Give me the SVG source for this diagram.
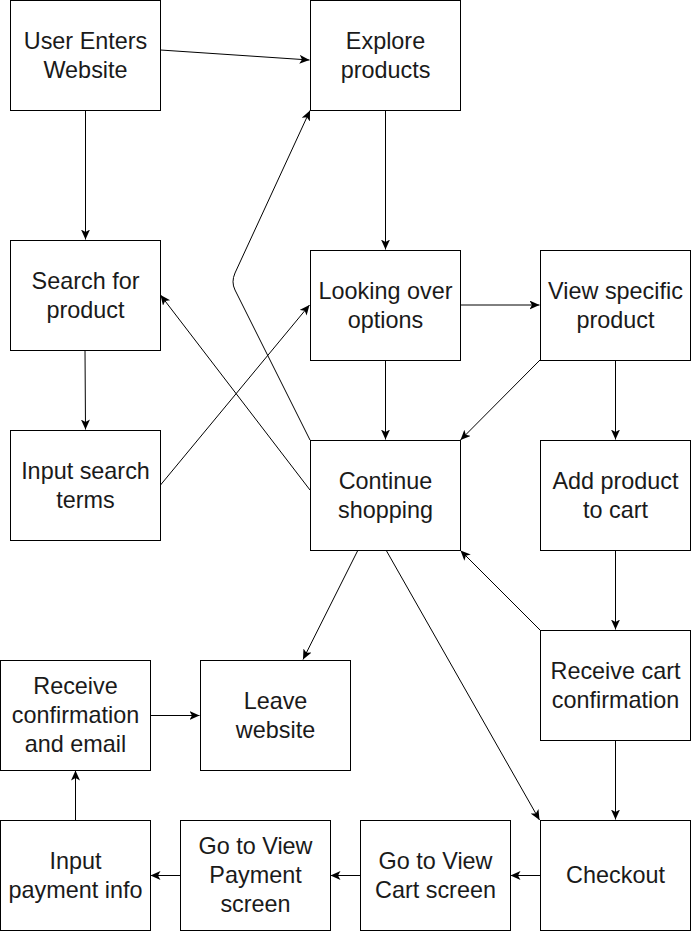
<svg xmlns="http://www.w3.org/2000/svg" width="691" height="931" viewBox="0 0 691 931">
<style>
.box{fill:#fff;stroke:#000;stroke-width:1}
.lbl{font-family:"Liberation Sans",Arial,sans-serif;font-size:23.4px;fill:#1a1a1a;text-anchor:middle}
.edge{fill:none;stroke:#000;stroke-width:1;marker-end:url(#arr)}
</style>
<defs>
<marker id="arr" markerUnits="userSpaceOnUse" markerWidth="12" markerHeight="10" refX="10" refY="4.5" orient="auto">
<path d="M0,0 L10,4.5 L0,9 L2.5,4.5 z" fill="#000"/>
</marker>
</defs>
<rect width="691" height="931" fill="#fff"/>
<g id="connectors">
<path class="edge" d="M160.5,50 L309.5,60"/>
<path class="edge" d="M85.5,110 L85.5,239.5"/>
<path class="edge" d="M385.5,110 L385.5,249.5"/>
<path class="edge" d="M85,350 L85.5,429.5"/>
<path class="edge" d="M160.5,485 L309.5,305"/>
<path class="edge" d="M460.5,305 L539.5,305"/>
<path class="edge" d="M385.5,360 L385.5,439.5"/>
<path class="edge" d="M540,360 L460.5,440"/>
<path class="edge" d="M615.5,360 L615.5,439.5"/>
<path class="edge" d="M310,490 L160.5,295"/>
<path class="edge" d="M310,440 L235,290 Q231,282 235,273 L310,110.5"/>
<path class="edge" d="M358,550 L303,659.5"/>
<path class="edge" d="M386,550 L539.5,820"/>
<path class="edge" d="M540,630 L460.5,550.5"/>
<path class="edge" d="M615.5,550 L615.5,629.5"/>
<path class="edge" d="M615.5,740 L615.5,819.5"/>
<path class="edge" d="M540,875.5 L510.5,875.5"/>
<path class="edge" d="M360,875.5 L330.5,875.5"/>
<path class="edge" d="M180,875.5 L150.5,875.5"/>
<path class="edge" d="M75.5,820 L75.5,770.5"/>
<path class="edge" d="M150.5,715.5 L199.5,715.5"/>
</g>
<g id="n1"><rect class="box" x="10.5" y="0.5" width="150" height="110"/><text class="lbl" x="85.5" y="48.5">User Enters</text><text class="lbl" x="85.5" y="77.5">Website</text></g>
<g id="n2"><rect class="box" x="310.5" y="0.5" width="150" height="110"/><text class="lbl" x="385.5" y="48.5">Explore</text><text class="lbl" x="385.5" y="77.5">products</text></g>
<g id="n3"><rect class="box" x="10.5" y="240.5" width="150" height="110"/><text class="lbl" x="85.5" y="288.5">Search for</text><text class="lbl" x="85.5" y="317.5">product</text></g>
<g id="n4"><rect class="box" x="310.5" y="250.5" width="150" height="110"/><text class="lbl" x="385.5" y="298.5">Looking over</text><text class="lbl" x="385.5" y="327.5">options</text></g>
<g id="n5"><rect class="box" x="540.5" y="250.5" width="150" height="110"/><text class="lbl" x="615.5" y="298.5">View specific</text><text class="lbl" x="615.5" y="327.5">product</text></g>
<g id="n6"><rect class="box" x="10.5" y="430.5" width="150" height="110"/><text class="lbl" x="85.5" y="478.5">Input search</text><text class="lbl" x="85.5" y="507.5">terms</text></g>
<g id="n7"><rect class="box" x="310.5" y="440.5" width="150" height="110"/><text class="lbl" x="385.5" y="488.5">Continue</text><text class="lbl" x="385.5" y="517.5">shopping</text></g>
<g id="n8"><rect class="box" x="540.5" y="440.5" width="150" height="110"/><text class="lbl" x="615.5" y="488.5">Add product</text><text class="lbl" x="615.5" y="517.5">to cart</text></g>
<g id="n9"><rect class="box" x="540.5" y="630.5" width="150" height="110"/><text class="lbl" x="615.5" y="678.5">Receive cart</text><text class="lbl" x="615.5" y="707.5">confirmation</text></g>
<g id="n10"><rect class="box" x="0.5" y="660.5" width="150" height="110"/><text class="lbl" x="75.5" y="694">Receive</text><text class="lbl" x="75.5" y="723">confirmation</text><text class="lbl" x="75.5" y="752">and email</text></g>
<g id="n11"><rect class="box" x="200.5" y="660.5" width="150" height="110"/><text class="lbl" x="275.5" y="708.5">Leave</text><text class="lbl" x="275.5" y="737.5">website</text></g>
<g id="n12"><rect class="box" x="540.5" y="820.5" width="150" height="110"/><text class="lbl" x="615.5" y="883">Checkout</text></g>
<g id="n13"><rect class="box" x="360.5" y="820.5" width="150" height="110"/><text class="lbl" x="435.5" y="868.5">Go to View</text><text class="lbl" x="435.5" y="897.5">Cart screen</text></g>
<g id="n14"><rect class="box" x="180.5" y="820.5" width="150" height="110"/><text class="lbl" x="255.5" y="854">Go to View</text><text class="lbl" x="255.5" y="883">Payment</text><text class="lbl" x="255.5" y="912">screen</text></g>
<g id="n15"><rect class="box" x="0.5" y="820.5" width="150" height="110"/><text class="lbl" x="75.5" y="868.5">Input</text><text class="lbl" x="75.5" y="897.5">payment info</text></g>
</svg>
